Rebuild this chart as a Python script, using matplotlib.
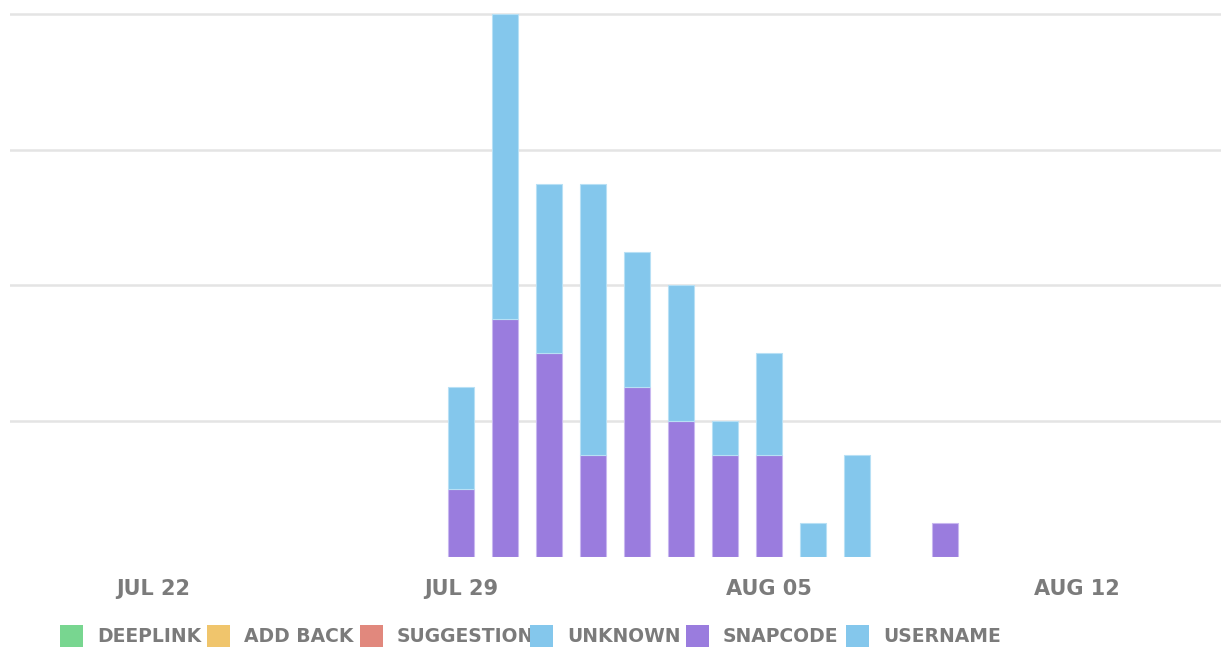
import datetime as dt

import matplotlib

matplotlib.use("Agg")
import matplotlib.dates as mdates
import matplotlib.pyplot as plt
from matplotlib.patches import Rectangle

# daily counts by source
days = [dt.date(2019, 7, 29) + dt.timedelta(days=i) for i in range(12)]
snapcode = [2, 7, 6, 3, 5, 4, 3, 3, 0, 0, 0, 1]
username = [3, 9, 5, 8, 4, 4, 1, 3, 1, 3, 0, 0]

tick_days = [dt.date(2019, 7, 22), dt.date(2019, 7, 29), dt.date(2019, 8, 5), dt.date(2019, 8, 12)]
tick_labels = ["JUL 22", "JUL 29", "AUG 05", "AUG 12"]

legend_names = ["DEEPLINK", "ADD BACK", "SUGGESTION", "UNKNOWN", "SNAPCODE", "USERNAME"]
legend_colors = ["#78d690", "#f0c56c", "#e1887d", "#84c7ec", "#9a7cde", "#84c7ec"]

PURPLE = "#9a7cde"
BLUE = "#84c7ec"
GREY = "#7b7b7b"
FONT = ["DejaVu Sans"]

W, H = 1221, 647
fig = plt.figure(figsize=(W / 100, H / 100), dpi=100)
ax = fig.add_axes([10 / W, 90 / H, 1 - 10 / W, 557 / H])

x = mdates.date2num(days)
# no outline on empty segments
lw_s = [0.8 if v > 0 else 0 for v in snapcode]
lw_u = [0.8 if v > 0 else 0 for v in username]
ax.bar(x, snapcode, width=0.58, color=PURPLE, edgecolor="#c9b8f0", linewidth=lw_s, zorder=3)
ax.bar(x, username, width=0.58, bottom=snapcode, color=BLUE, edgecolor="#b8e0f5",
       linewidth=lw_u, zorder=3)

x0 = mdates.date2num(dt.date(2019, 7, 22))
ax.set_xlim(x0 - 3.25, x0 + 21 + 3.27)
ax.set_ylim(0, 16.41)
ax.set_yticks([4, 8, 12, 16])
ax.yaxis.grid(True, color="#e4e4e4", linewidth=1.8, zorder=0)
ax.tick_params(axis="y", left=False, labelleft=False)
ax.set_xticks(mdates.date2num(tick_days))
ax.set_xticklabels(tick_labels)
ax.tick_params(axis="x", bottom=False, pad=12, labelsize=15, labelcolor=GREY)
for lbl in ax.get_xticklabels():
    lbl.set_family(FONT)
    lbl.set_fontweight("bold")
for side in ax.spines.values():
    side.set_visible(False)

# hand-placed legend row; squares sit on top of the preceding label
sq_left = [60, 207, 360, 530, 686, 846]
for left, name, col in zip(sq_left, legend_names, legend_colors):
    fig.text((left + 37) / W, (H - 637) / H, name, family=FONT, fontweight="bold",
             fontsize=13.5, color=GREY, va="center", ha="left", zorder=1)
    fig.patches.append(Rectangle((left / W, (H - 648) / H), 23 / W, 23 / H,
                                 transform=fig.transFigure, facecolor=col,
                                 edgecolor="none", zorder=5))

fig.savefig("out.png", dpi=100)
